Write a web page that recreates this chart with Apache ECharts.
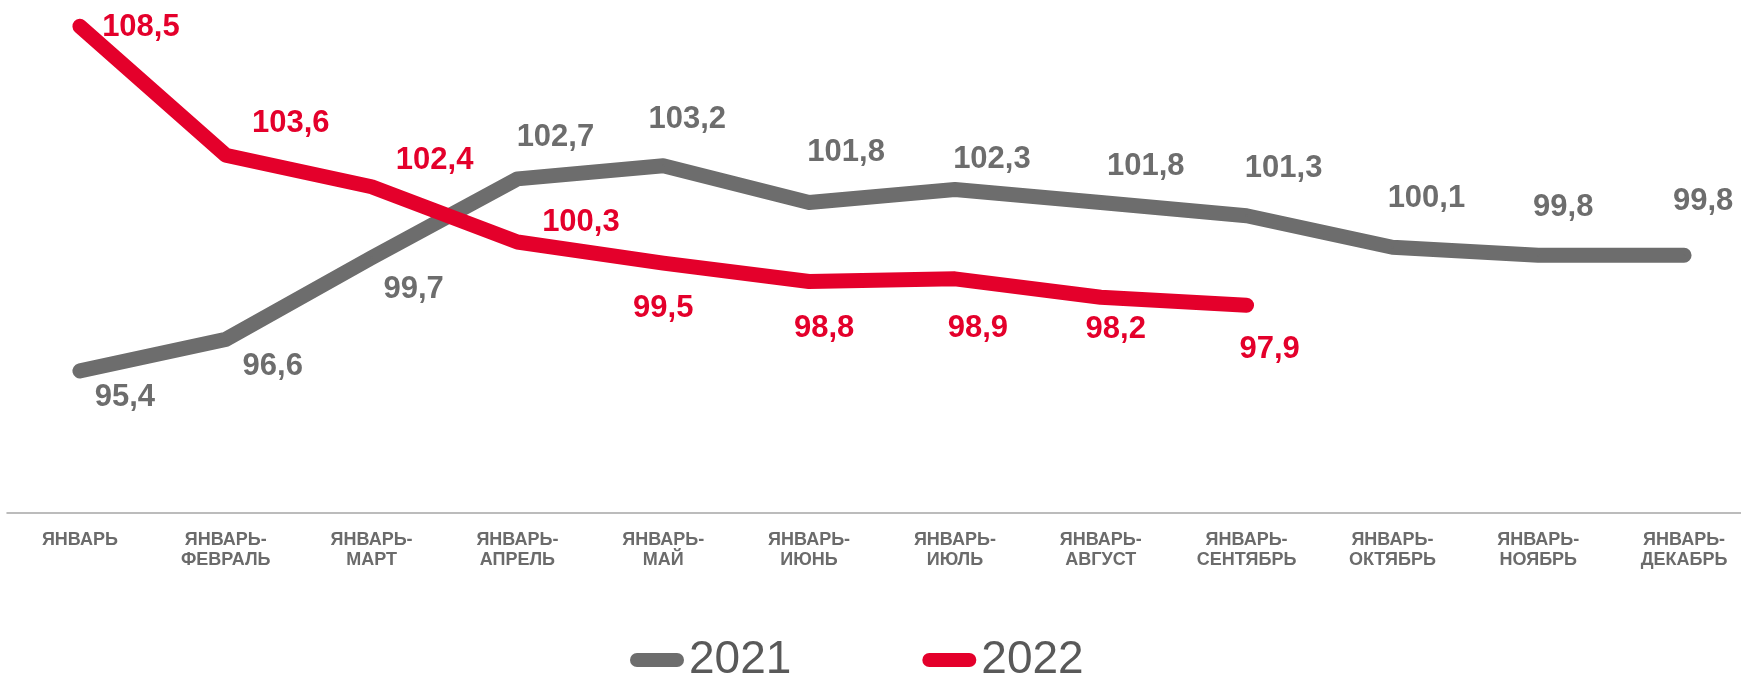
<!DOCTYPE html>
<html>
<head>
<meta charset="utf-8">
<script src="https://cdn.jsdelivr.net/npm/echarts@6/dist/echarts.min.js"></script>
<style>html,body{margin:0;padding:0;background:#fff;}#c{width:1741px;height:674px;}</style>
</head>
<body>
<div id="c"></div>
<script>
const categories = ['ЯНВАРЬ','ЯНВАРЬ-\nФЕВРАЛЬ','ЯНВАРЬ-\nМАРТ','ЯНВАРЬ-\nАПРЕЛЬ','ЯНВАРЬ-\nМАЙ','ЯНВАРЬ-\nИЮНЬ','ЯНВАРЬ-\nИЮЛЬ','ЯНВАРЬ-\nАВГУСТ','ЯНВАРЬ-\nСЕНТЯБРЬ','ЯНВАРЬ-\nОКТЯБРЬ','ЯНВАРЬ-\nНОЯБРЬ','ЯНВАРЬ-\nДЕКАБРЬ'];
const seriesNames = ['2021','2022'];
const values2021 = [95.4, 96.6, 99.7, 102.7, 103.2, 101.8, 102.3, 101.8, 101.3, 100.1, 99.8, 99.8];
const values2022 = [108.5, 103.6, 102.4, 100.3, 99.5, 98.8, 98.9, 98.2, 97.9];
// label offsets (style only)
const labelOffsets2021 = [[45,27],[47,27],[42,32],[38,-41],[24,-46.5],[37,-50],[37,-29.5],[45,-36],[37,-47.5],[34,-48.5],[25,-47.5],[19,-53.5]];
const labelOffsets2022 = [[61,1],[65,-32],[63,-26],[63.5,-19.5],[0,45.5],[15,46.5],[23,49.5],[15,32.5],[23,44.5]];

const GRAY = '#6d6d6d', RED = '#e4002b';
const FONT = 'Liberation Sans, Arial, sans-serif';
const fmt = p => p.value.toFixed(1).replace('.', ',');
function build(vals, offs) {
  return vals.map((v, i) => ({ value: v, label: { offset: offs[i] } }));
}
function lineSeries(name, vals, offs, col) {
  return {
    name, type: 'line', data: build(vals, offs),
    symbol: 'circle', symbolSize: 2, showSymbol: true, color: col,
    itemStyle: { color: col },
    lineStyle: { color: col, width: 15, cap: 'round', join: 'round' },
    label: { show: true, position: 'inside', formatter: fmt, color: col, fontFamily: FONT, fontWeight: 'bold', fontSize: 31 },
    emphasis: { disabled: true }
  };
}
const chart = echarts.init(document.getElementById('c'));
chart.setOption({
  animation: false,
  grid: { left: 7, top: 0, width: 1750, height: 513, outerBoundsMode: 'none', containLabel: false },
  xAxis: {
    type: 'category', data: categories, boundaryGap: true,
    axisLine: { lineStyle: { color: '#a6a6a6', width: 1.5 } },
    axisTick: { show: false },
    axisLabel: { interval: 0, color: '#6b6b6b', fontFamily: FONT, fontWeight: 'bold', fontSize: 18, lineHeight: 20, margin: 17 }
  },
  yAxis: { type: 'value', min: 90, max: 109.5, show: false, splitLine: { show: false } },
  legend: {
    data: seriesNames, left: 625, top: 632, itemWidth: 54, itemHeight: 14, itemGap: 131,
    icon: 'path://M7 0H47A7 7 0 0 1 47 14H7A7 7 0 0 1 7 0Z',
    textStyle: { color: '#595959', fontFamily: FONT, fontSize: 46, lineHeight: 46 }
  },
  series: [
    lineSeries('2021', values2021, labelOffsets2021, GRAY),
    lineSeries('2022', values2022, labelOffsets2022, RED)
  ]
});
</script>
</body>
</html>
